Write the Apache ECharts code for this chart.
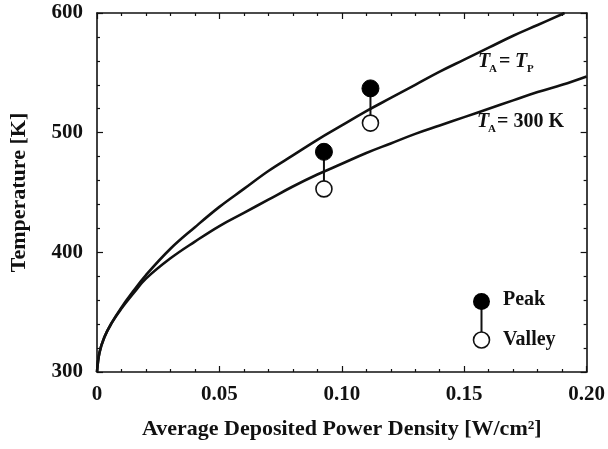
<!DOCTYPE html>
<html>
<head>
<meta charset="utf-8">
<script src="https://cdn.jsdelivr.net/npm/echarts@6/dist/echarts.min.js"></script>
<style>
  html, body { margin: 0; padding: 0; background: #fff; }
  #chart { width: 608px; height: 449px; }
</style>
</head>
<body>
<div id="chart"></div>
<script>
// power density [W/cm2]
var densityX = [0, 0.001, 0.003, 0.006, 0.01, 0.015, 0.02, 0.03, 0.04, 0.05, 0.06, 0.07, 0.08, 0.09,
  0.10, 0.11, 0.12, 0.13, 0.14, 0.15, 0.16, 0.17, 0.18, 0.191];
// T_A = T_P curve
var tempEqual = [300, 316, 329, 341, 354, 368, 381, 403, 421, 438, 453, 468, 481, 494,
  506, 518, 529, 540, 551, 561, 571, 581, 590, 600];

var densityX2 = [0, 0.001, 0.003, 0.006, 0.01, 0.015, 0.02, 0.03, 0.04, 0.05, 0.06, 0.07, 0.08, 0.09,
  0.10, 0.11, 0.12, 0.13, 0.14, 0.15, 0.16, 0.17, 0.18, 0.19, 0.20];
// T_A = 300 K curve
var temp300 = [300, 316, 329, 341, 353, 366, 378, 395, 409, 422, 433, 444, 455, 465,
  474, 483, 491, 499, 506, 513, 520, 527, 534, 540, 547];

// measured points
var measX = [0.0927, 0.1117];
var peakT = [484, 537];
var valleyT = [453, 508];

var FONT = 'Liberation Serif';

function pairs(xs, ys) {
  return xs.map(function (x, i) { return [x, ys[i]]; });
}

var chart = echarts.init(document.getElementById('chart'));

var tickStyle = { color: '#111', width: 1.2 };
var axisBase = {
  axisLine: { show: true, onZero: false, lineStyle: { color: '#111', width: 1.6 } },
  axisTick: { show: true, inside: true, length: 6, lineStyle: tickStyle },
  minorTick: { show: true, splitNumber: 5, length: 3, lineStyle: tickStyle },
  splitLine: { show: false },
  minorSplitLine: { show: false }
};

chart.setOption({
  backgroundColor: '#fff',
  animation: false,
  grid: { left: 97, right: 21, top: 13, bottom: 77 },
  xAxis: [
    Object.assign({
      type: 'value', min: 0, max: 0.2, interval: 0.05, position: 'bottom',
      name: 'Average Deposited Power Density [W/cm\u00b2]',
      nameLocation: 'middle', nameGap: 46,
      nameTextStyle: { fontFamily: FONT, fontWeight: 'bold', fontSize: 22, color: '#111' },
      axisLabel: {
        margin: 12, fontFamily: FONT, fontWeight: 'bold', fontSize: 21, color: '#111',
        formatter: function (v) { return v === 0 ? '0' : v.toFixed(2); }
      }
    }, axisBase),
    Object.assign({
      type: 'value', min: 0, max: 0.2, interval: 0.05, position: 'top',
      axisLabel: { show: false }
    }, axisBase)
  ],
  yAxis: [
    Object.assign({
      type: 'value', min: 300, max: 600, interval: 100, position: 'left',
      name: 'Temperature [K]',
      nameLocation: 'middle', nameGap: 67,
      nameTextStyle: { fontFamily: FONT, fontWeight: 'bold', fontSize: 22, color: '#111' },
      axisLabel: { margin: 14, fontFamily: FONT, fontWeight: 'bold', fontSize: 21, color: '#111' }
    }, axisBase),
    Object.assign({
      type: 'value', min: 300, max: 600, interval: 100, position: 'right',
      axisLabel: { show: false }
    }, axisBase)
  ],
  series: [
    {
      name: 'TA=TP', type: 'line', data: pairs(densityX, tempEqual),
      showSymbol: false, smooth: 0.4, z: 2,
      lineStyle: { color: '#111', width: 2.6 }
    },
    {
      name: 'TA=300K', type: 'line', data: pairs(densityX2, temp300),
      showSymbol: false, smooth: 0.4, z: 2,
      lineStyle: { color: '#111', width: 2.6 }
    },
    {
      name: 'stem', type: 'custom', z: 3,
      data: measX.map(function (x, i) { return [x, peakT[i], valleyT[i]]; }),
      renderItem: function (params, api) {
        var p = api.coord([api.value(0), api.value(1)]);
        var v = api.coord([api.value(0), api.value(2)]);
        return {
          type: 'line',
          shape: { x1: p[0], y1: p[1], x2: v[0], y2: v[1] },
          style: { stroke: '#111', lineWidth: 2 }
        };
      }
    },
    {
      name: 'Peak', type: 'scatter', data: pairs(measX, peakT), z: 4,
      symbol: 'circle', symbolSize: 17,
      itemStyle: { color: '#000', borderColor: '#000', borderWidth: 1, opacity: 1 }
    },
    {
      name: 'Valley', type: 'scatter', data: pairs(measX, valleyT), z: 4,
      symbol: 'circle', symbolSize: 16,
      itemStyle: { color: '#fff', borderColor: '#111', borderWidth: 1.6, opacity: 1 }
    }
  ],
  graphic: [
    // curve labels
    { type: 'text', z: 10, style: { text: 'T', x: 478, y: 62, textVerticalAlign: 'middle', font: 'italic bold 20px "Liberation Serif"', fill: '#111' } },
    { type: 'text', z: 10, style: { text: 'A', x: 489, y: 69, textVerticalAlign: 'middle', font: 'bold 11px "Liberation Serif"', fill: '#111' } },
    { type: 'text', z: 10, style: { text: '=', x: 499, y: 62, textVerticalAlign: 'middle', font: 'bold 20px "Liberation Serif"', fill: '#111' } },
    { type: 'text', z: 10, style: { text: 'T', x: 515, y: 62, textVerticalAlign: 'middle', font: 'italic bold 20px "Liberation Serif"', fill: '#111' } },
    { type: 'text', z: 10, style: { text: 'P', x: 527, y: 69, textVerticalAlign: 'middle', font: 'bold 11px "Liberation Serif"', fill: '#111' } },

    { type: 'text', z: 10, style: { text: 'T', x: 477, y: 122, textVerticalAlign: 'middle', font: 'italic bold 20px "Liberation Serif"', fill: '#111' } },
    { type: 'text', z: 10, style: { text: 'A', x: 488, y: 129, textVerticalAlign: 'middle', font: 'bold 11px "Liberation Serif"', fill: '#111' } },
    { type: 'text', z: 10, style: { text: '= 300 K', x: 497, y: 122, textVerticalAlign: 'middle', font: 'bold 20px "Liberation Serif"', fill: '#111' } },

    // legend
    { type: 'line', z: 10, shape: { x1: 481.5, y1: 302, x2: 481.5, y2: 340 }, style: { stroke: '#111', lineWidth: 2 } },
    { type: 'circle', z: 11, shape: { cx: 481.5, cy: 301.5, r: 8.5 }, style: { fill: '#000' } },
    { type: 'circle', z: 11, shape: { cx: 481.5, cy: 340, r: 8 }, style: { fill: '#fff', stroke: '#111', lineWidth: 1.6 } },
    { type: 'text', z: 10, style: { text: 'Peak', x: 503, y: 300, textVerticalAlign: 'middle', font: 'bold 20px "Liberation Serif"', fill: '#111' } },
    { type: 'text', z: 10, style: { text: 'Valley', x: 503, y: 340, textVerticalAlign: 'middle', font: 'bold 20px "Liberation Serif"', fill: '#111' } }
  ]
});
</script>
</body>
</html>
